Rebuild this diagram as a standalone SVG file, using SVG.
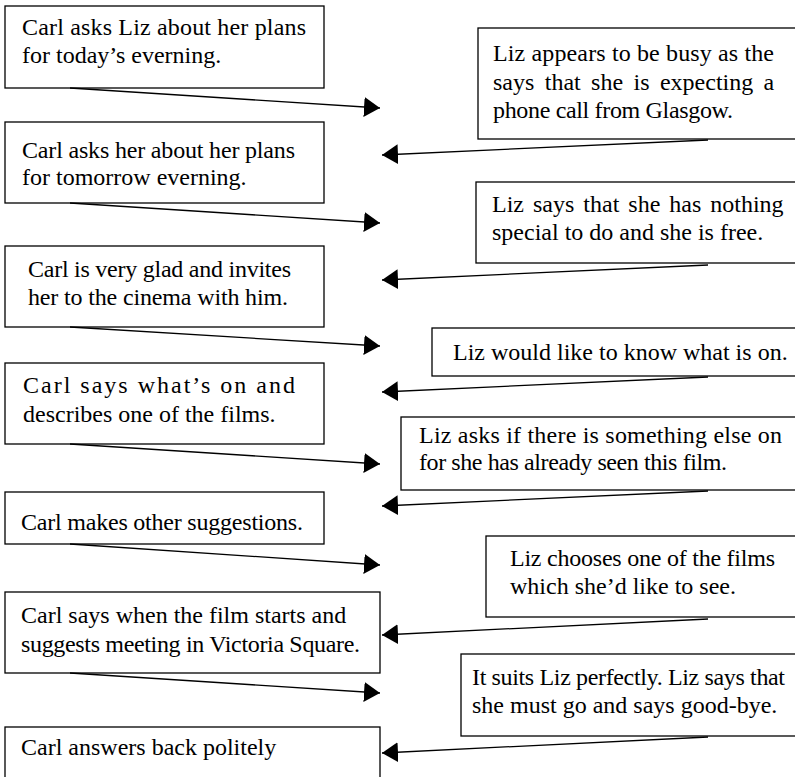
<svg xmlns="http://www.w3.org/2000/svg" width="795" height="777" viewBox="0 0 795 777">
<defs>
<style>
.box{fill:#fff;stroke:#000;stroke-width:1.3}
.t{font-family:"Liberation Serif","Times New Roman",serif;font-size:24px;fill:#000}
.c{fill:none;stroke:#000;stroke-width:1.3}
</style>
<marker id="ah" markerUnits="userSpaceOnUse" markerWidth="16" markerHeight="20" refX="16" refY="10" orient="auto">
<path d="M0,0 L16,10 L0,20 z" fill="#000"/>
</marker>
</defs>
<rect width="795" height="777" fill="#fff"/>

<g id="c1"><rect class="box" x="5" y="6" width="319" height="82"/>
<text class="t" x="22" y="35" textLength="284" lengthAdjust="spacing">Carl asks Liz about her plans</text>
<text class="t" x="22" y="63">for today’s everning.</text></g>

<g id="l1"><rect class="box" x="478" y="28" width="330" height="111"/>
<text class="t" x="493" y="61" textLength="281" lengthAdjust="spacing">Liz appears to be busy as the</text>
<text class="t" x="493" y="90" word-spacing="4.4">says that she is expecting a</text>
<text class="t" x="493" y="118" textLength="240" lengthAdjust="spacing">phone call from Glasgow.</text></g>

<g id="c2"><rect class="box" x="5" y="122" width="319" height="81"/>
<text class="t" x="22" y="158" textLength="273" lengthAdjust="spacing">Carl asks her about her plans</text>
<text class="t" x="22" y="185">for tomorrow everning.</text></g>

<g id="l2"><rect class="box" x="476" y="182" width="330" height="81"/>
<text class="t" x="492" y="212" word-spacing="3">Liz says that she has nothing</text>
<text class="t" x="492" y="240">special to do and she is free.</text></g>

<g id="c3"><rect class="box" x="5" y="246" width="319" height="81"/>
<text class="t" x="28" y="277" textLength="263" lengthAdjust="spacing">Carl is very glad and invites</text>
<text class="t" x="28" y="305" textLength="260" lengthAdjust="spacing">her to the cinema with him.</text></g>

<g id="l3"><rect class="box" x="432" y="328" width="380" height="48"/>
<text class="t" x="453" y="360">Liz would like to know what is on.</text></g>

<g id="c4"><rect class="box" x="5" y="363" width="319" height="81"/>
<text class="t" x="23" y="393" textLength="272" lengthAdjust="spacing">Carl says what’s on and</text>
<text class="t" x="23" y="422">describes one of the films.</text></g>

<g id="l4"><rect class="box" x="401" y="417" width="410" height="73"/>
<text class="t" x="419" y="443" textLength="363" lengthAdjust="spacing">Liz asks if there is something else on</text>
<text class="t" x="419" y="470" textLength="308" lengthAdjust="spacing">for she has already seen this film.</text></g>

<g id="c5"><rect class="box" x="5" y="492" width="319" height="52"/>
<text class="t" x="21" y="530" textLength="282" lengthAdjust="spacing">Carl makes other suggestions.</text></g>

<g id="l5"><rect class="box" x="486" y="536" width="330" height="81"/>
<text class="t" x="510" y="566" textLength="265" lengthAdjust="spacing">Liz chooses one of the films</text>
<text class="t" x="510" y="594">which she’d like to see.</text></g>

<g id="c6"><rect class="box" x="5" y="592" width="375" height="81"/>
<text class="t" x="21" y="623">Carl says when the film starts and</text>
<text class="t" x="21" y="652" textLength="339" lengthAdjust="spacing">suggests meeting in Victoria Square.</text></g>

<g id="l6"><rect class="box" x="461" y="654" width="350" height="82"/>
<text class="t" x="472" y="685" textLength="313" lengthAdjust="spacing">It suits Liz perfectly. Liz says that</text>
<text class="t" x="472" y="713">she must go and says good-bye.</text></g>

<g id="c7"><rect class="box" x="5" y="727" width="375" height="70"/>
<text class="t" x="21" y="755">Carl answers back politely</text></g>

<g id="connectors" class="c">
<line x1="70" y1="88" x2="380" y2="108" marker-end="url(#ah)"/>
<line x1="708" y1="140" x2="382" y2="155" marker-end="url(#ah)"/>
<line x1="70" y1="203" x2="380" y2="223" marker-end="url(#ah)"/>
<line x1="708" y1="265" x2="382" y2="280" marker-end="url(#ah)"/>
<line x1="70" y1="327" x2="380" y2="346" marker-end="url(#ah)"/>
<line x1="708" y1="377" x2="382" y2="392" marker-end="url(#ah)"/>
<line x1="70" y1="444" x2="380" y2="464" marker-end="url(#ah)"/>
<line x1="708" y1="491" x2="382" y2="506" marker-end="url(#ah)"/>
<line x1="70" y1="544" x2="380" y2="565" marker-end="url(#ah)"/>
<line x1="708" y1="619" x2="382" y2="635" marker-end="url(#ah)"/>
<line x1="70" y1="673" x2="380" y2="693" marker-end="url(#ah)"/>
<line x1="708" y1="737" x2="382" y2="753" marker-end="url(#ah)"/>
</g>
</svg>
